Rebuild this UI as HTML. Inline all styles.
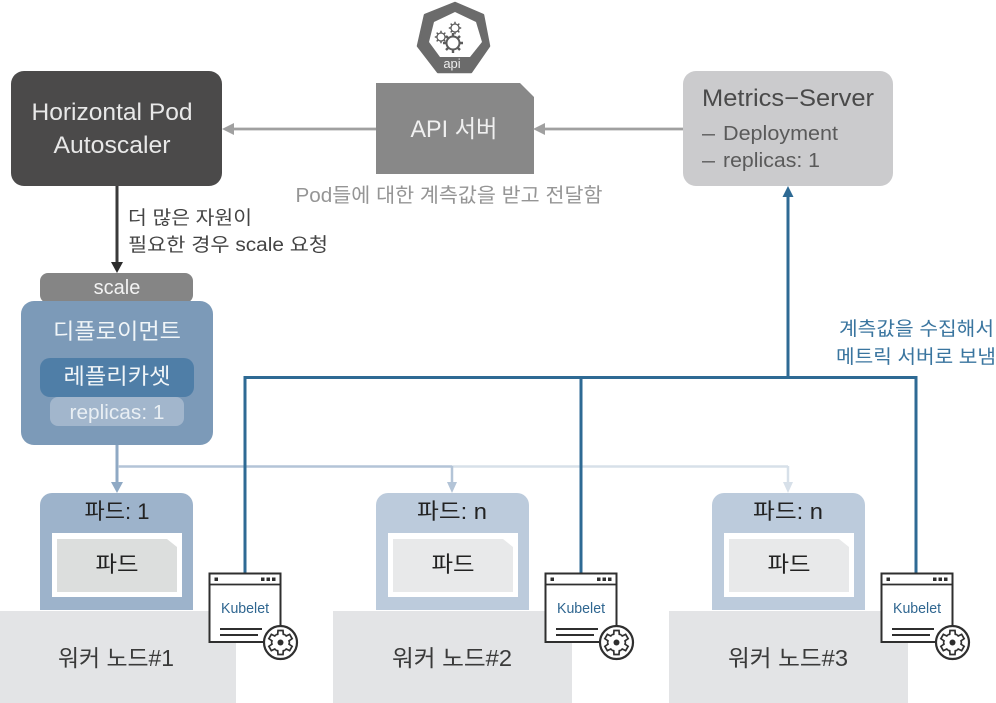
<!DOCTYPE html>
<html><head><meta charset="utf-8"><style>
html,body{margin:0;padding:0;background:#fff}
svg{display:block}
text{font-family:"Liberation Sans","Noto Sans CJK KR",sans-serif}
</style></head><body>
<svg width="996" height="703" viewBox="0 0 996 703" xmlns="http://www.w3.org/2000/svg">
<defs>
<g id="seg"><path d="M-4.5,-7.800 L-2.800,-8.200 L-2.500,-12 L2.500,-12 L2.800,-8.200 L4.500,-7.800"/></g>
<g id="gearline">
<use href="#seg"/>
<use href="#seg" transform="rotate(60)"/>
<use href="#seg" transform="rotate(120)"/>
<use href="#seg" transform="rotate(180)"/>
<use href="#seg" transform="rotate(240)"/>
<use href="#seg" transform="rotate(300)"/>
</g>
<g id="igear" fill="none" stroke="#5c5c5c" stroke-width="1.800">
<circle r="6.500" stroke-width="2"/>
<path d="M0-10V-6.500M0 10V6.500M-10 0H-6.500M10 0H6.500M-7-7L-4.600-4.600M7 7L4.600 4.600M-7 7L-4.600 4.600M7-7L4.600-4.600" stroke-width="2.400"/>
</g>
<g id="kub">
<rect x="209.500" y="573.500" width="71" height="68.500" fill="#fff" stroke="#2f2f2f" stroke-width="2"/>
<line x1="209" y1="584.500" x2="281" y2="584.500" stroke="#2f2f2f" stroke-width="1.800"/>
<rect x="214.500" y="577.500" width="3.500" height="3.500" fill="#2f2f2f"/>
<rect x="261" y="577.500" width="3.500" height="3.500" fill="#2f2f2f"/><rect x="266.500" y="577.500" width="3.500" height="3.500" fill="#2f2f2f"/><rect x="272" y="577.500" width="3.500" height="3.500" fill="#2f2f2f"/>
<path d="M220 629H262M220 635H258" stroke="#2f2f2f" stroke-width="2"/>
<circle cx="280.500" cy="642.500" r="16.500" fill="#fff" stroke="#2f2f2f" stroke-width="2.200"/>
<use href="#gearline" transform="translate(280.500,642.500)" fill="none" stroke="#2f2f2f" stroke-width="1.700"/>
<circle cx="280.500" cy="642.500" r="3" fill="#2f2f2f"/>
<text x="245" y="613" font-size="15" fill="#2f6690" text-anchor="middle" textLength="48" lengthAdjust="spacingAndGlyphs">Kubelet</text>
</g>
</defs>

<!-- API icon -->
<polygon points="455,3 483,15 489,46 471,72 438,72 418,46 425,15" fill="#6b6b6b" stroke="#6b6b6b" stroke-width="2.500" stroke-linejoin="round"/>
<polygon points="455,12 476,22 482,42 470,57 440,57 429,42 434,22" fill="#fff"/>
<use href="#igear" transform="translate(453,43)"/>
<use href="#igear" transform="translate(441,37) scale(.62)"/>
<use href="#igear" transform="translate(455,28) scale(.62)"/>
<text x="452" y="68" font-size="13" fill="#eee" text-anchor="middle">api</text>

<!-- HPA -->
<rect x="11" y="71" width="211" height="115" rx="13" fill="#4b4a4a"/>
<text x="112" y="120" font-size="24" fill="#e8e8e8" text-anchor="middle" textLength="161" lengthAdjust="spacingAndGlyphs">Horizontal Pod</text>
<text x="112" y="153" font-size="24" fill="#e8e8e8" text-anchor="middle" textLength="117" lengthAdjust="spacingAndGlyphs">Autoscaler</text>

<!-- API server -->
<polygon points="376,83 520,83 534,97 534,174 376,174" fill="#888888"/>
<text x="454" y="137" font-size="24" fill="#f0f0f0" text-anchor="middle" textLength="87" lengthAdjust="spacingAndGlyphs">API 서버</text>

<!-- Metrics -->
<rect x="683" y="71" width="210" height="115" rx="13" fill="#cbcbcd"/>
<text x="702" y="106" font-size="24" fill="#4a4a4a" textLength="172" lengthAdjust="spacingAndGlyphs">Metrics−Server</text>
<text x="702" y="140" font-size="20" fill="#5a5a5a" textLength="13" lengthAdjust="spacingAndGlyphs">–</text>
<text x="723" y="140" font-size="20" fill="#5a5a5a" textLength="115" lengthAdjust="spacingAndGlyphs">Deployment</text>
<text x="702" y="167" font-size="20" fill="#5a5a5a" textLength="13" lengthAdjust="spacingAndGlyphs">–</text>
<text x="723" y="167" font-size="20" fill="#5a5a5a" textLength="97" lengthAdjust="spacingAndGlyphs">replicas: 1</text>

<!-- grey arrows -->
<path d="M376 129H231M683 129H542" stroke="#a0a0a0" stroke-width="2.800"/>
<polygon points="222,129 234,123 234,135" fill="#a0a0a0"/>
<polygon points="533,129 545,123 545,135" fill="#a0a0a0"/>
<text x="449" y="202" font-size="20" fill="#959595" text-anchor="middle" textLength="307" lengthAdjust="spacingAndGlyphs">Pod들에 대한 계측값을 받고 전달함</text>

<!-- HPA -> scale -->
<line x1="117" y1="186" x2="117" y2="264" stroke="#3a3a3a" stroke-width="3"/>
<polygon points="117,273 111,262 123,262" fill="#2c2c2c"/>
<text x="128" y="224" font-size="19" fill="#444" textLength="124" lengthAdjust="spacingAndGlyphs">더 많은 자원이</text>
<text x="128" y="251" font-size="19" fill="#444" textLength="200" lengthAdjust="spacingAndGlyphs">필요한 경우 scale 요청</text>

<!-- scale -->
<rect x="40" y="273" width="153" height="30" rx="8" fill="#858585"/>
<text x="117" y="294" font-size="20" fill="#f2f2f2" text-anchor="middle">scale</text>

<!-- deployment -->
<rect x="21" y="301" width="192" height="144" rx="13" fill="#7c9ab8"/>
<text x="117" y="339" font-size="22" fill="#f0f5f8" text-anchor="middle" textLength="128" lengthAdjust="spacingAndGlyphs">디플로이먼트</text>
<rect x="40" y="358" width="154" height="39" rx="10" fill="#4f7ea7"/>
<text x="117" y="384" font-size="22" fill="#f0f5f8" text-anchor="middle" textLength="107" lengthAdjust="spacingAndGlyphs">레플리카셋</text>
<rect x="50" y="397" width="134" height="29" rx="8" fill="#a2b6cc"/>
<text x="117" y="419" font-size="20" fill="#e9eff4" text-anchor="middle" textLength="95" lengthAdjust="spacingAndGlyphs">replicas: 1</text>

<!-- deployment to pods -->
<line x1="117" y1="445" x2="117" y2="484" stroke="#8fa9c4" stroke-width="3"/>
<polygon points="117,493 111,482 123,482" fill="#8fa9c4"/>
<path d="M118 466.500H452" stroke="#b3c4d7" stroke-width="2.500" fill="none"/>
<path d="M452 466.500H788" stroke="#d7e0e9" stroke-width="2.500" fill="none"/>
<line x1="452" y1="466" x2="452" y2="484" stroke="#b3c4d7" stroke-width="2.500"/>
<polygon points="452,493 447,482 457,482" fill="#b3c4d7"/>
<line x1="788" y1="466" x2="788" y2="484" stroke="#d7e0e9" stroke-width="2.500"/>
<polygon points="788,493 783,482 793,482" fill="#d7e0e9"/>

<!-- pods -->
<path d="M40 610V505a12 12 0 0 1 12-12H181a12 12 0 0 1 12 12V610Z" fill="#9db3cb"/>
<path d="M376 610V505a12 12 0 0 1 12-12H517a12 12 0 0 1 12 12V610Z" fill="#bccbdc"/>
<path d="M712 610V505a12 12 0 0 1 12-12H853a12 12 0 0 1 12 12V610Z" fill="#bccbdc"/>
<text x="117" y="519" font-size="22" fill="#222" text-anchor="middle" textLength="65" lengthAdjust="spacingAndGlyphs">파드: 1</text>
<text x="452" y="519" font-size="22" fill="#222" text-anchor="middle" textLength="70" lengthAdjust="spacingAndGlyphs">파드: n</text>
<text x="788" y="519" font-size="22" fill="#222" text-anchor="middle" textLength="70" lengthAdjust="spacingAndGlyphs">파드: n</text>

<rect x="52" y="533" width="130" height="64" fill="#fff"/>
<polygon points="57,539 167,539 177,547 177,592 57,592" fill="#dcdedd"/>
<text x="117" y="572" font-size="22" fill="#222" text-anchor="middle" textLength="43" lengthAdjust="spacingAndGlyphs">파드</text>
<rect x="388" y="533" width="130" height="64" fill="#fff"/>
<polygon points="393,539 503,539 513,547 513,592 393,592" fill="#e8e9ea"/>
<text x="453" y="572" font-size="22" fill="#222" text-anchor="middle" textLength="43" lengthAdjust="spacingAndGlyphs">파드</text>
<rect x="724" y="533" width="130" height="64" fill="#fff"/>
<polygon points="729,539 839,539 849,547 849,592 729,592" fill="#e8e9ea"/>
<text x="789" y="572" font-size="22" fill="#222" text-anchor="middle" textLength="43" lengthAdjust="spacingAndGlyphs">파드</text>

<!-- workers -->
<rect x="0" y="611" width="236" height="92" fill="#e3e4e6"/>
<rect x="333" y="611" width="239" height="92" fill="#e3e4e6"/>
<rect x="669" y="611" width="239" height="92" fill="#e3e4e6"/>
<text x="116" y="666" font-size="23" fill="#3a3a3a" text-anchor="middle" textLength="116" lengthAdjust="spacingAndGlyphs">워커 노드#1</text>
<text x="452" y="666" font-size="23" fill="#3a3a3a" text-anchor="middle" textLength="120" lengthAdjust="spacingAndGlyphs">워커 노드#2</text>
<text x="788" y="666" font-size="23" fill="#3a3a3a" text-anchor="middle" textLength="120" lengthAdjust="spacingAndGlyphs">워커 노드#3</text>

<!-- blue connectors -->
<path d="M245 574V377.500H916V574M581 377.500V574M788 377.500V195" fill="none" stroke="#2e6a94" stroke-width="3"/>
<polygon points="788,186 782.500,197 793.500,197" fill="#2e6a94"/>
<text x="994" y="335" font-size="19" fill="#3a759f" text-anchor="end" textLength="155" lengthAdjust="spacingAndGlyphs">계측값을 수집해서</text>
<text x="996" y="363" font-size="19" fill="#3a759f" text-anchor="end" textLength="160" lengthAdjust="spacingAndGlyphs">메트릭 서버로 보냄</text>

<use href="#kub"/>
<use href="#kub" x="336"/>
<use href="#kub" x="672"/>
</svg>
</body></html>
